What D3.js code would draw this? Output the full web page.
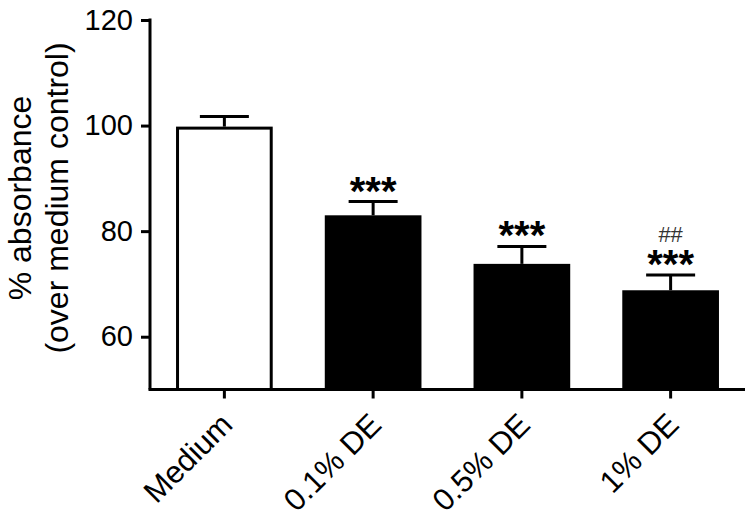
<!DOCTYPE html>
<html>
<head>
<meta charset="utf-8">
<script src="https://cdn.jsdelivr.net/npm/d3@7"></script>
<style>
  html, body { margin: 0; padding: 0; background: #fff; }
  svg { display: block; }
  text { font-family: "Liberation Sans", Arial, Helvetica, sans-serif; }
</style>
</head>
<body>
<svg id="chart" width="752" height="521"></svg>
<script>
// ---- data ----
const categories = ["Medium", "0.1% DE", "0.5% DE", "1% DE"];
const means = [99.8, 83.0, 73.8, 68.8];
const errors = [1.9, 2.6, 3.3, 2.9];
const stars = ["", "***", "***", "***"];
const hashes = ["", "", "", "##"];
const fills = ["#ffffff", "#000000", "#000000", "#000000"];
const yTicks = [60, 80, 100, 120];
const yLabelLines = ["% absorbance", "(over medium control)"];

const svg = d3.select("#chart");
const mLeft = 150, mRight = 745, mTop = 20, mBottom = 389.5;

const x = d3.scaleBand().domain(categories).range([mLeft, mRight])
  .paddingInner(0.35).paddingOuter(0.175);
const y = d3.scaleLinear().domain([50, 120]).range([mBottom, mTop]);

const data = categories.map((c, i) => ({c, m: means[i], e: errors[i], s: stars[i], h: hashes[i], f: fills[i]}));

// bars
const sw = 3;
svg.append("g").selectAll("rect").data(data).join("rect")
  .attr("x", d => x(d.c) + sw / 2)
  .attr("width", x.bandwidth() - sw)
  .attr("y", d => y(d.m) + sw / 2)
  .attr("height", d => y(50) - y(d.m) - sw / 2)
  .attr("fill", d => d.f)
  .attr("stroke", "#000")
  .attr("stroke-width", sw);

// error bars
const capW = 49;
const eg = svg.append("g").attr("stroke", "#000");
eg.selectAll("line.stem").data(data).join("line").attr("class", "stem")
  .attr("x1", d => x(d.c) + x.bandwidth() / 2)
  .attr("x2", d => x(d.c) + x.bandwidth() / 2)
  .attr("y1", d => y(d.m))
  .attr("y2", d => y(d.m + d.e))
  .attr("stroke-width", 3);
eg.selectAll("line.cap").data(data).join("line").attr("class", "cap")
  .attr("x1", d => x(d.c) + x.bandwidth() / 2 - capW / 2)
  .attr("x2", d => x(d.c) + x.bandwidth() / 2 + capW / 2)
  .attr("y1", d => y(d.m + d.e))
  .attr("y2", d => y(d.m + d.e))
  .attr("stroke-width", 3);

// significance marks
svg.append("g").selectAll("text").data(data.filter(d => d.s)).join("text")
  .attr("x", d => x(d.c) + x.bandwidth() / 2)
  .attr("y", d => y(d.m + d.e) + 3)
  .attr("text-anchor", "middle")
  .attr("font-size", 40)
  .attr("font-weight", "bold")
  .text(d => d.s);
svg.append("g").selectAll("text").data(data.filter(d => d.h)).join("text")
  .attr("x", d => x(d.c) + x.bandwidth() / 2)
  .attr("y", d => y(d.m + d.e) - 33)
  .attr("text-anchor", "middle")
  .attr("font-size", 22)
  .attr("fill", "#333")
  .text(d => d.h);

// y axis
const yAxis = svg.append("g").attr("transform", `translate(${mLeft},0)`)
  .call(d3.axisLeft(y).tickValues(yTicks).tickSize(9).tickPadding(8).tickSizeOuter(0));
yAxis.select(".domain").attr("stroke-width", 3).attr("d", `M0,${mTop - 1.5}V${mBottom}`);
yAxis.selectAll(".tick line").attr("stroke-width", 3);
yAxis.selectAll(".tick text").attr("font-size", 29).attr("fill", "#000")
  .attr("font-family", "'Liberation Sans', Arial, sans-serif");

// x axis
const xAxis = svg.append("g").attr("transform", `translate(0,${mBottom})`)
  .call(d3.axisBottom(x).tickSize(9).tickSizeOuter(0).tickFormat(""));
xAxis.select(".domain").attr("stroke-width", 3).attr("d", `M${mLeft - 1.5},0H${mRight}`);
xAxis.selectAll(".tick line").attr("stroke-width", 3);
xAxis.selectAll(".tick").append("text")
  .attr("transform", "translate(10,37) rotate(-45)")
  .attr("text-anchor", "end")
  .attr("font-size", 31)
  .attr("fill", "#000")
  .attr("font-family", "'Liberation Sans', Arial, sans-serif")
  .text(d => d);

// y label
const yl = svg.append("text")
  .attr("transform", "translate(0,198) rotate(-90)")
  .attr("text-anchor", "middle")
  .attr("font-size", 32);
yl.selectAll("tspan").data(yLabelLines).join("tspan")
  .attr("x", 0)
  .attr("y", (d, i) => i === 0 ? 31 : 68)
  .text(d => d);
</script>
</body>
</html>
